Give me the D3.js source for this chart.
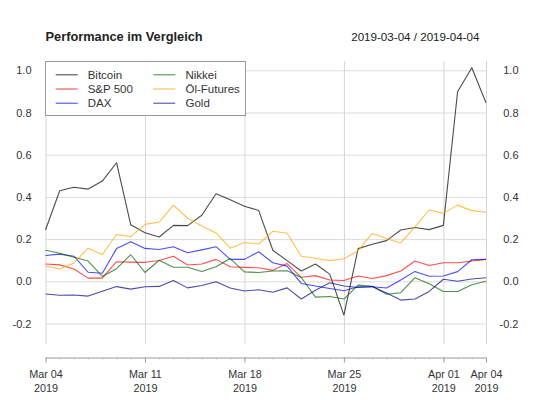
<!DOCTYPE html>
<html>
<head>
<meta charset="utf-8">
<script src="https://cdn.jsdelivr.net/npm/d3@7"></script>
<style>
  html, body { margin: 0; padding: 0; background: #fff; }
  svg { display: block; font-family: "Liberation Sans", Arial, Helvetica, sans-serif; }
</style>
</head>
<body>
<svg id="chart" width="533" height="400"></svg>
<script>
// ---------- data ----------
const dates = ["2019-03-04","2019-03-05","2019-03-06","2019-03-07","2019-03-08","2019-03-09","2019-03-10",
  "2019-03-11","2019-03-12","2019-03-13","2019-03-14","2019-03-15","2019-03-16","2019-03-17",
  "2019-03-18","2019-03-19","2019-03-20","2019-03-21","2019-03-22","2019-03-23","2019-03-24",
  "2019-03-25","2019-03-26","2019-03-27","2019-03-28","2019-03-29","2019-03-30","2019-03-31",
  "2019-04-01","2019-04-02","2019-04-03","2019-04-04"];

const seriesNames = ["Bitcoin", "S&P 500", "DAX", "Nikkei", "Öl-Futures", "Gold"];

const bitcoin = [0.243,0.429,0.446,0.437,0.475,0.562,0.268,0.230,0.210,0.265,0.264,0.313,0.415,0.386,0.356,0.336,
  0.147,0.098,0.049,0.082,0.034,-0.160,0.155,0.176,0.193,0.243,0.255,0.245,0.265,0.898,1.012,0.846];
const sp500 = [0.082,0.078,0.058,0.015,0.015,0.093,0.091,0.090,0.099,0.119,0.077,0.082,0.104,0.069,0.066,0.064,
  0.052,0.084,0.019,0.027,0.006,0.004,0.025,0.013,0.027,0.049,0.096,0.075,0.088,0.088,0.096,0.104];
const dax = [0.122,0.129,0.119,0.043,0.038,0.155,0.188,0.156,0.151,0.164,0.135,0.149,0.164,0.104,0.104,0.140,
  0.088,0.072,-0.010,-0.022,-0.034,-0.045,-0.026,-0.026,-0.032,0.006,0.047,0.024,0.025,0.046,0.102,0.104];
const nikkei = [0.147,0.133,0.114,0.096,0.023,0.060,0.126,0.042,0.100,0.067,0.067,0.047,0.069,0.108,0.045,0.042,
  0.049,0.050,0.018,-0.075,-0.072,-0.084,-0.018,-0.023,-0.061,-0.054,0.017,-0.012,-0.048,-0.048,-0.016,0.000];
const oil = [0.073,0.058,0.087,0.157,0.127,0.222,0.212,0.270,0.281,0.361,0.299,0.262,0.229,0.157,0.184,0.177,
  0.237,0.228,0.119,0.109,0.098,0.107,0.145,0.227,0.203,0.182,0.258,0.338,0.322,0.361,0.335,0.327];
const gold = [-0.060,-0.066,-0.065,-0.070,-0.047,-0.025,-0.037,-0.026,-0.024,0.004,-0.031,-0.020,-0.002,-0.032,-0.046,-0.040,
  -0.052,-0.031,-0.084,-0.042,-0.007,-0.022,-0.029,-0.025,-0.055,-0.089,-0.084,-0.048,0.010,0.000,0.011,0.017];

const yTicks = [-0.2, 0.0, 0.2, 0.4, 0.6, 0.8, 1.0];
const xMajorTicks = ["2019-03-04","2019-03-11","2019-03-18","2019-03-25","2019-04-01","2019-04-04"];
const titleText = "Performance im Vergleich";
const rangeText = "2019-03-04 / 2019-04-04";

// ---------- styles ----------
const colors = ["#000000", "#ff0000", "#0000ff", "#006400", "#ffa500", "#00008b"];
const lineOpacity = 0.7;

(function draw() {
  const parse = d3.utcParse("%Y-%m-%d");
  const X = dates.map(parse);
  const allSeries = [bitcoin, sp500, dax, nikkei, oil, gold];

  const svg = d3.select("#chart");
  const pLeft = 45.5, pRight = 486, pTop = 61, pBottom = 344;

  const x = d3.scaleUtc().domain([X[0], X[X.length - 1]]).range([pLeft, pRight]);
  const y = d3.scaleLinear().domain([-0.297, 1.044]).range([pBottom, pTop]);
  const fmt = v => d3.format(".1f")(v).replace("\u2212", "-");

  // grid - horizontal
  const gy = svg.append("g").attr("transform", `translate(${pLeft},0)`)
    .call(d3.axisLeft(y).tickValues(yTicks).tickSize(-(pRight - pLeft)).tickFormat(""));
  gy.select(".domain").remove();
  gy.selectAll("line").attr("stroke", "#dcdcdc").attr("stroke-width", 1);

  // grid - vertical
  const gx = svg.append("g").attr("transform", `translate(0,${pBottom})`)
    .call(d3.axisBottom(x).tickValues(xMajorTicks.map(parse)).tickSize(-(pBottom - pTop)).tickFormat(""));
  gx.select(".domain").remove();
  gx.selectAll("line").attr("stroke", "#d6d6d6").attr("stroke-width", 1);

  // y labels left & right
  const yl = svg.append("g").attr("transform", `translate(31.5,0)`)
    .call(d3.axisLeft(y).tickValues(yTicks).tickSize(0).tickPadding(0).tickFormat(fmt));
  yl.select(".domain").remove();
  const yr = svg.append("g").attr("transform", `translate(518.5,0)`)
    .call(d3.axisLeft(y).tickValues(yTicks).tickSize(0).tickPadding(0).tickFormat(fmt));
  yr.select(".domain").remove();
  [yl, yr].forEach(g => g.selectAll("text")
    .attr("font-size", 11).attr("fill", "#333")
    .style("font-family", "'Liberation Sans', Arial, sans-serif"));

  // lines
  const line = d3.line().x((d, i) => x(X[i])).y(d => y(d));
  allSeries.forEach((s, k) => {
    svg.append("path").datum(s)
      .attr("d", line)
      .attr("fill", "none")
      .attr("stroke", colors[k])
      .attr("stroke-opacity", lineOpacity)
      .attr("stroke-width", 1.1)
      .attr("stroke-linejoin", "round");
  });

  // x axis (minor daily ticks + major ticks)
  const axisY = 357.5;
  const minor = svg.append("g").attr("transform", `translate(0,${axisY})`)
    .call(d3.axisBottom(x).tickValues(X).tickSize(3).tickFormat(""));
  minor.select(".domain").remove();
  minor.selectAll("line").attr("stroke", "#e2e2e2");

  const major = svg.append("g").attr("transform", `translate(0,${axisY})`)
    .call(d3.axisBottom(x).tickValues(xMajorTicks.map(parse)).tickSize(5).tickSizeOuter(0).tickPadding(0)
      .tickFormat(d3.utcFormat("%b %d")));
  major.select(".domain").attr("stroke", "#999").attr("stroke-width", 1);
  major.selectAll("line").attr("stroke", "#999");
  major.selectAll("text").each(function(d) {
    const t = d3.select(this);
    t.text(null).attr("y", 0).attr("dy", null)
      .attr("font-size", 10.8).attr("fill", "#333")
      .style("font-family", "'Liberation Sans', Arial, sans-serif");
    t.append("tspan").attr("x", 0).attr("y", 20.5).text(d3.utcFormat("%b %d")(d));
    t.append("tspan").attr("x", 0).attr("y", 34).text(d3.utcFormat("%Y")(d));
  });

  // title
  svg.append("text").attr("x", 45.5).attr("y", 41)
    .attr("font-size", 12.8).attr("font-weight", "bold").attr("fill", "#222")
    .text(titleText);
  svg.append("text").attr("x", 479.5).attr("y", 41).attr("text-anchor", "end")
    .attr("font-size", 11.6).attr("fill", "#222")
    .text(rangeText);

  // legend
  const lg = svg.append("g");
  lg.append("rect").attr("x", 45.5).attr("y", 61.5).attr("width", 200).attr("height", 54)
    .attr("fill", "#fff").attr("stroke", "#999").attr("stroke-width", 1);
  const rowY = [74.8, 89, 103.2];
  seriesNames.forEach((name, k) => {
    const col = Math.floor(k / 3), row = k % 3;
    const lx = col === 0 ? 55.7 : 153.3;
    const tx = col === 0 ? 87.7 : 185.5;
    lg.append("line").attr("x1", lx).attr("x2", lx + 22).attr("y1", rowY[row]).attr("y2", rowY[row])
      .attr("stroke", colors[k]).attr("stroke-opacity", lineOpacity).attr("stroke-width", 1.1);
    lg.append("text").attr("x", tx).attr("y", rowY[row]).attr("dy", "0.36em")
      .attr("font-size", 11.5).attr("fill", "#333").text(name);
  });
})();
</script>
</body>
</html>
